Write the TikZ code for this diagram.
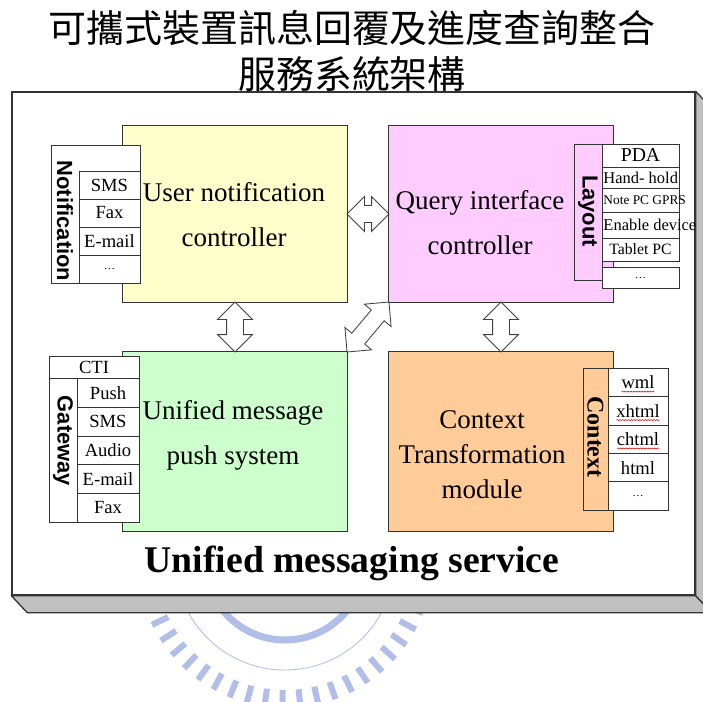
\documentclass[tikz,border=0pt]{standalone}
\usepackage{fontspec}
\setmainfont{Liberation Serif}
\setsansfont{Liberation Sans}
\newfontfamily\cjkfont{Noto Sans CJK TC}
\usepackage{tikz}
\usetikzlibrary{calc,shapes.arrows,decorations.pathmorphing}
\definecolor{notifYellow}{RGB}{255,255,204}
\definecolor{queryPink}{RGB}{255,204,255}
\definecolor{pushGreen}{RGB}{204,255,204}
\definecolor{ctxOrange}{RGB}{255,204,153}
\definecolor{baseGrey}{RGB}{192,192,192}
\definecolor{sealBlue}{RGB}{178,190,234}
\tikzset{
    every node/.append style={align=center},
    platform/.style={rectangle,draw=black!80,line width=0.9pt,fill=white,minimum width=17.075cm,
        minimum height=12.575cm,inner sep=0pt},
    side/.style={fill=baseGrey,draw=black!80,line width=0.9pt,line join=round},
    ctrl/.style={rectangle,draw=black!80,line width=0.7pt,minimum width=5.6cm,minimum height=4.4cm,
        inner sep=0pt},
    ctrltext/.style={font=\fontsize{19.2}{32}\selectfont,inner sep=0pt},
    panel/.style={rectangle,draw=black!80,line width=0.6pt,fill=white,inner sep=0pt},
    cell/.style={rectangle,draw=black!80,line width=0.6pt,fill=white,inner sep=0pt,
        font=\fontsize{13.2}{14}\selectfont},
    tabtext/.style={font=\sffamily\bfseries\fontsize{15.6}{16}\selectfont,inner sep=0pt,rotate=-90},
    dblarr/.style={double arrow,draw=black!75,line width=0.6pt,fill=white,inner sep=0pt,
        inner ysep=0.2cm,double arrow head extend=0.225cm},
    spell/.style={draw=red!85!black,line width=0.4pt,decorate,
        decoration={snake,amplitude=0.35pt,segment length=2pt}},
    seal/.style={draw=sealBlue,line cap=butt}
}

\begin{document}
\begin{tikzpicture}[x=0.025cm,y=-0.025cm]
    \useasboundingbox (0,0) rectangle (703,702);

    \foreach \a in {0,7,...,182}
        \draw[seal,line width=4.3pt] ({285+130*cos(\a)},{560+130*sin(\a)}) -- ({285+148*cos(\a)},{560+148*sin(\a)});
    \draw[seal,line width=0.6pt] (285,560) circle[radius=110];
    \draw[seal,line width=5pt] (285,560) circle[radius=80];

    \node[font=\cjkfont\fontsize{27}{32.7}\selectfont,inner sep=0pt] (title) at (352,51)
        {可攜式裝置訊息回覆及進度查詢整合\\服務系統架構};

    \node[platform] (base) at (353.5,343.5) {};
    \draw[side] (base.south west) -- (base.south east) -- ++(16,17) -- ($(base.south west)+(16,17)$) -- cycle;
    \draw[side] (base.north east) -- ++(16,17) -- ($(base.south east)+(16,17)$) -- (base.south east) -- cycle;
    \node[font=\bfseries\fontsize{26.8}{30}\selectfont,inner sep=0pt] (umsL) at (352,563) {Unified messaging service};

    \node[ctrl,fill=notifYellow] (user)  at (235,214)   {};
    \node[ctrl,fill=queryPink]   (query) at (501,214)   {};
    \node[ctrl,fill=pushGreen,minimum height=4.475cm] (push) at (235,441.5) {};
    \node[ctrl,fill=ctxOrange,minimum height=4.475cm] (ctx)  at (501,441.5) {};

    \node[ctrltext] (userT)  at (234,214.5) {User notification\\controller};
    \node[ctrltext] (queryT) at (480,222.5) {Query interface\\controller};
    \node[ctrltext] (pushT)  at (233,435)   {Unified message\\push system};
    \node[ctrltext,font=\fontsize{19.2}{24.9}\selectfont] (ctxT) at (482,455) {Context\\Transformation\\module};

    \node[panel,minimum width=2.225cm,minimum height=3.45cm] (notifP) at (95.5,214) {};
    \foreach \t [count=\i] in {SMS,Fax,E-mail,{\footnotesize\dots}}
        \node[cell,minimum width=1.525cm,minimum height=0.7cm] (notif\i) at (109.5,{157+28*\i}) {\t};
    \node[tabtext] (notifL) at (65,221) {Notification};

    \node[panel,minimum width=2.25cm,minimum height=4.15cm] (gateP) at (94,439) {};
    \node[cell,minimum width=2.25cm,minimum height=0.55cm] (gateCTI) at (94,367) {CTI};
    \foreach \t [count=\i] in {Push,SMS,Audio,E-mail,Fax}
        \node[cell,minimum width=1.55cm,minimum height=0.72cm] (gate\i) at (108,{364.25+28.75*\i}) {\t};
    \node[tabtext] (gateL) at (63,441) {Gateway};

    \node[panel,fill=queryPink,minimum width=0.7cm,minimum height=3.4cm] (layP) at (588,212) {};
    \node[tabtext] (layL) at (588,211) {Layout};
    \foreach \y/\h/\s/\a/\t [count=\i] in {155.5/0.575/14/c/PDA,177.5/0.525/11.7/l/Hand- hold,
            200/0.6/9.5/l/Note PC GPRS,225/0.65/11.7/l/Enable device,249.5/0.575/11.2/c/Tablet PC,
            277.5/0.525/8/c/\dots}
        \node[cell,minimum width=1.925cm,minimum height=\h cm,font=\fontsize{\s}{\s}\selectfont] (lay\i)
            at (640.5,\y) {\makebox[1.85cm][\a]{\t}};

    \node[panel,fill=ctxOrange,minimum width=0.625cm,minimum height=3.55cm] (ctxP) at (595.5,439) {};
    \node[tabtext,font=\bfseries\fontsize{17}{18}\selectfont] (ctxL) at (595.5,437) {Context};
    \foreach \t [count=\i] in {wml,xhtml,chtml,html,{\footnotesize\dots}}
        \node[cell,minimum width=1.5cm,minimum height=0.71cm] (ctx\i) at (638,{354.1+28.4*\i}) {\t};
    \foreach \i/\w in {1/0.41,2/0.54,3/0.52}
        \draw[spell] ([xshift=-\w cm,yshift=-2pt]ctx\i.base) -- ([xshift=\w cm,yshift=-2pt]ctx\i.base);

    \node[dblarr,minimum height=1.05cm] (arrUQ) at ($(user.east)!0.5!(query.west)$) {};
    \node[dblarr,rotate=90,minimum height=1.25cm] (arrUP) at ($(user.south)!0.5!(push.north)$) {};
    \node[dblarr,rotate=90,minimum height=1.25cm] (arrQC) at ($(query.south)!0.5!(ctx.north)$) {};
    \node[dblarr,rotate=50,minimum height=1.63cm] (arrPQ) at ($(push.north east)!0.5!(query.south west)$) {};
\end{tikzpicture}
\end{document}
